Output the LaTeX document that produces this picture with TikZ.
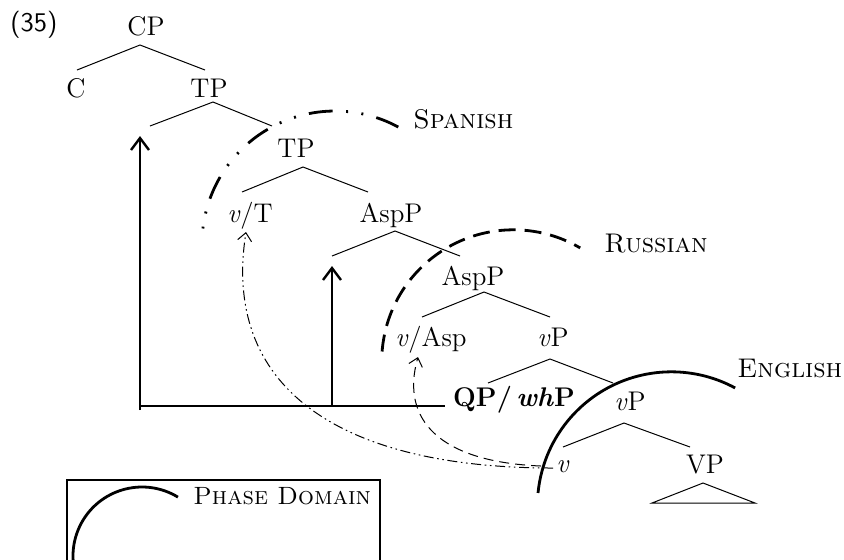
\documentclass[tikz,border=0pt]{standalone}
\usepackage{fontspec}
\usetikzlibrary{arrows.meta}
\begin{document}
\begin{tikzpicture}[x=0.5pt,y=-0.5pt,
  lab/.style={anchor=base,inner sep=0pt,font=\fontsize{13.5}{16}\selectfont\addfontfeature{LetterSpace=3}},
  langlab/.style={anchor=base west,inner sep=0pt,font=\fontsize{13.5}{16}\selectfont\scshape\addfontfeature{LetterSpace=7}},
  leglab/.style={anchor=base west,inner sep=0pt,font=\fontsize{12.5}{15}\selectfont\scshape\addfontfeature{LetterSpace=3}},
  br/.style={line width=0.5pt},
  movearrow/.style={line width=1.2pt,-{Straight Barb[length=6pt,width=9pt]}},
  phase/.style={line width=1.4pt},
  spanish/.style={phase,dash pattern=on 12pt off 6.7pt on 1pt off 6.7pt on 1pt off 6.7pt},
  russian/.style={phase,dash pattern=on 8.5pt off 4.5pt},
  ddd/.style={line width=0.5pt,dash pattern=on 5pt off 1.8pt on 0.8pt off 1.8pt on 0.8pt off 1.8pt,-{Straight Barb[length=4pt,width=7pt]}},
  dsh/.style={line width=0.5pt,dash pattern=on 5pt off 3pt,-{Straight Barb[length=4pt,width=7pt]}}]
\useasboundingbox (0,0) rectangle (844,559);

% example number
\node[anchor=base west,inner sep=0pt,font=\fontsize{13.5}{16}\selectfont\sffamily] (num) at (10,31) {(35)};

% tree nodes
\node[lab] (cp) at (146,35) {CP};
\node[lab] (c) at (76,97) {C};
\node[lab] (tp1) at (209,97) {TP};
\node[lab] (tp2) at (296,157) {TP};
\node[lab] (vt) at (250,222) {\textit{v}/T};
\node[lab] (asp1) at (391,222) {AspP};
\node[lab] (asp2) at (473,285) {AspP};
\node[lab] (vasp) at (431,346) {\textit{v}/Asp};
\node[lab] (vp1) at (553,346) {\textit{v}P};
\node[lab] (qp) at (514,406) {\textbf{QP/\,\textit{wh}P}};
\node[lab] (vp2) at (630,410) {\textit{v}P};
\node[lab] (v) at (563,472) {\textit{v}};
\node[lab] (vpp) at (705,473) {VP};

% branch points
\coordinate (cp-a) at (140,45);  \coordinate (cp-l) at (77,70);   \coordinate (cp-r) at (205,70);
\coordinate (tp1-a) at (213,102); \coordinate (tp1-l) at (150,126); \coordinate (tp1-r) at (272,126);
\coordinate (tp2-a) at (303,167); \coordinate (tp2-l) at (242,192); \coordinate (tp2-r) at (368,192);
\coordinate (asp1-a) at (395,231); \coordinate (asp1-l) at (332,256); \coordinate (asp1-r) at (460,256);
\coordinate (asp2-a) at (484,292); \coordinate (asp2-l) at (422,317); \coordinate (asp2-r) at (550,317);
\coordinate (vp1-a) at (550,359); \coordinate (vp1-l) at (488,383); \coordinate (vp1-r) at (613,383);
\coordinate (vp2-a) at (624,423); \coordinate (vp2-l) at (563,447); \coordinate (vp2-r) at (690,447);
\coordinate (tri-a) at (703,483); \coordinate (tri-l) at (652,503); \coordinate (tri-r) at (755,503);

\draw[br] (cp-l) -- (cp-a) -- (cp-r);
\draw[br] (tp1-l) -- (tp1-a) -- (tp1-r);
\draw[br] (tp2-l) -- (tp2-a) -- (tp2-r);
\draw[br] (asp1-l) -- (asp1-a) -- (asp1-r);
\draw[br] (asp2-l) -- (asp2-a) -- (asp2-r);
\draw[br] (vp1-l) -- (vp1-a) -- (vp1-r);
\draw[br] (vp2-l) -- (vp2-a) -- (vp2-r);
\draw[br] (tri-a) -- (tri-l) -- (tri-r) -- cycle;

% movement arrows
\coordinate (h-l) at (140,406);
\coordinate (h-r) at (445,406);
\coordinate (a1-b) at (140,410);
\coordinate (a1-t) at (140,136);
\coordinate (a2-b) at (332,406);
\coordinate (a2-t) at (332,266);
\draw[line width=1.2pt] (h-l) -- (h-r);
\draw[movearrow] (a1-b) -- (a1-t);
\draw[movearrow] (a2-b) -- (a2-t);

% phase domains
\coordinate (sp-c) at (335,244);
\coordinate (ru-c) at (513.5,361.6);
\coordinate (en-c) at (671.4,505.8);
\draw[spanish] ([shift={(61.6:66.5pt)}]sp-c) arc[start angle=61.6,end angle=173.3,radius=66.5pt];
\draw[russian] ([shift={(175.6:65.9pt)}]ru-c) arc[start angle=175.6,end angle=59.6,radius=65.9pt];
\draw[phase] ([shift={(174.5:67pt)}]en-c) arc[start angle=174.5,end angle=61.6,radius=67pt];

\node[langlab] (spl) at (413,128) {Spanish};
\node[langlab] (rul) at (604,252) {Russian};
\node[langlab] (enl) at (737,377) {English};

% head movement connectors
\coordinate (v-s1) at (553,468);
\coordinate (v-s2) at (541,466);
\coordinate (vt-t) at (246,232);
\coordinate (vasp-t) at (418,357);
\draw[ddd] (v-s1) .. controls (335,468) and (222,385) .. (vt-t);
\draw[dsh] (v-s2) .. controls (440,462) and (400,420) .. (vasp-t);

% legend
\coordinate (lg-tl) at (67,480);
\coordinate (lg-br) at (380,580);
\draw[line width=0.6pt] (lg-tl) rectangle (lg-br);
\coordinate (lg-c) at (142,556);
\draw[phase] ([shift={(58.6:34.5pt)}]lg-c) arc[start angle=58.6,end angle=190,radius=34.5pt];
\node[leglab] (pdl) at (193,504) {Phase Domain};
\end{tikzpicture}
\end{document}
